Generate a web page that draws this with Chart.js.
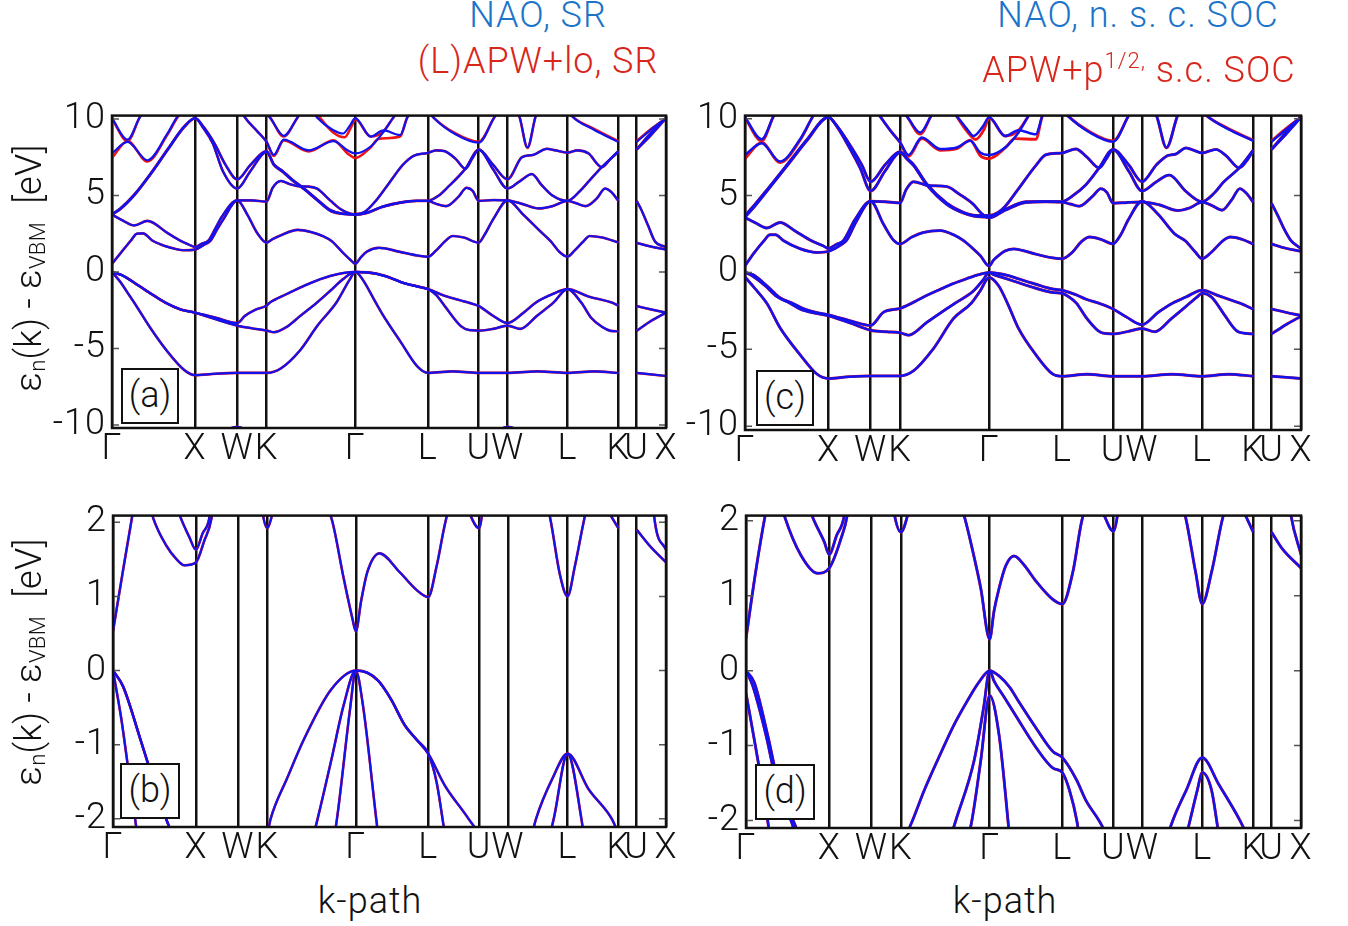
<!DOCTYPE html>
<html lang="en">
<head>
<meta charset="UTF-8">
<title>Band structures</title>
<script src="https://cdn.jsdelivr.net/npm/chart.js"></script>
<style>
  body { margin: 0; background: #fff; }
  #page { position: relative; width: 1348px; height: 926px; overflow: hidden;
          font-family: Roboto, "Liberation Sans", sans-serif; font-weight: 300; }
  canvas { position: absolute; }
  .txt { position: absolute; white-space: nowrap; font-size: 36px; line-height: 36px; letter-spacing: 1px; }
  .title { transform: translateX(-50%); }
  .blue { color: #1c74c8; }
  .red { color: #d8261a; }
  .ylab { width: 320px; height: 40px; line-height: 40px; text-align: center; color: #111;
          letter-spacing: 0.3px; transform: rotate(-90deg); }
  .ylab sub { font-size: 22px; vertical-align: -4px; }
  .box { position: absolute; box-sizing: border-box; border: 2px solid #111; background: #fff;
         font-size: 36px; text-align: center; color: #111; }
  sup { font-size: 22px; vertical-align: 14px; }
</style>
</head>
<body>
<div id="page">
  <canvas id="pa" width="680" height="382" style="left:0;top:88px"></canvas>
  <canvas id="pb" width="680" height="380" style="left:0;top:488px"></canvas>
  <canvas id="pc" width="668" height="382" style="left:680px;top:88px"></canvas>
  <canvas id="pd" width="668" height="380" style="left:680px;top:488px"></canvas>

  <div class="txt title blue" style="left:538px;top:-3px">NAO, SR</div>
  <div class="txt title red" style="left:538px;top:43px">(L)APW+lo, SR</div>
  <div class="txt title blue" style="left:1138px;top:-3px">NAO, n. s. c. SOC</div>
  <div class="txt title red" style="left:1139px;top:43px">APW+p<sup>1/2,</sup> s.c. SOC</div>

  <div class="txt ylab" style="left:-131px;top:248px">&epsilon;<sub>n</sub>(k) - &epsilon;<sub>VBM</sub>&nbsp;&nbsp;[eV]</div>
  <div class="txt ylab" style="left:-131px;top:642px">&epsilon;<sub>n</sub>(k) - &epsilon;<sub>VBM</sub>&nbsp;&nbsp;[eV]</div>

  <div class="txt title" style="left:370px;top:883px;color:#111">k-path</div>
  <div class="txt title" style="left:1005px;top:883px;color:#111">k-path</div>

  <div class="box" style="left:121px;top:368px;width:58px;height:56px;line-height:50px">(a)</div>
  <div class="box" style="left:120px;top:763px;width:60px;height:56px;line-height:50px">(b)</div>
  <div class="box" style="left:756px;top:370px;width:58px;height:56px;line-height:50px">(c)</div>
  <div class="box" style="left:755px;top:764px;width:60px;height:56px;line-height:50px">(d)</div>
</div>
<script>
// k-path: high-symmetry points (fraction of the path)
const kTicks = [0, 0.150, 0.226, 0.279, 0.439, 0.570, 0.662, 0.714, 0.822, 0.914, 0.947, 1];
const kLabels = ['\u0393', 'X', 'W', 'K', '\u0393', 'L', 'U', 'W', 'L', 'K', 'U', 'X'];
const wideTicks = [-10, -5, 0, 5, 10];
const zoomTicks = [-2, -1, 0, 1, 2];

// ---- scalar-relativistic bands, [k, E] (eV) ----
const srT1 = [[0.19,-10.6],[0.226,-10.12],[0.262,-10.6],[0.68,-10.6],[0.714,-10.12],[0.75,-10.6]];
const srT2 = [[0,0],[0.015,-0.65],[0.028,-1.35],[0.04,-2.0],[0.07,-3.7],[0.1,-5.2],[0.13,-6.4],[0.15,-6.75],
  [0.188,-6.65],[0.226,-6.6],[0.279,-6.6],
  [0.305,-6.3],[0.34,-5.1],[0.371,-3.5],[0.405,-2.0],[0.429,-0.5],[0.439,0],
  [0.452,-0.47],[0.476,-2.0],[0.49,-2.87],[0.521,-4.57],[0.551,-6.17],[0.570,-6.6],
  [0.615,-6.5],[0.662,-6.6],[0.714,-6.6],[0.768,-6.5],[0.822,-6.6],[0.87,-6.5],[0.914,-6.6],
  [0.93,null],[0.947,-6.6],[1,-6.8]];
const srT3 = [[0,0],[0.018,-0.21],[0.048,-0.89],[0.066,-1.32],[0.096,-2.0],[0.124,-2.45],[0.15,-2.66],
  [0.188,-3.1],[0.226,-3.51],[0.252,-3.68],[0.279,-3.83],
  [0.292,-3.94],[0.315,-3.6],[0.34,-2.87],[0.37,-2.0],[0.395,-1.2],[0.417,-0.47],[0.439,0],
  [0.46,-0.03],[0.48,-0.14],[0.503,-0.39],[0.527,-0.73],[0.55,-0.94],[0.570,-1.12],
  [0.585,-1.5],[0.6,-2.2],[0.63,-3.55],[0.645,-3.8],[0.662,-3.83],
  [0.688,-3.72],[0.714,-3.51],
  [0.737,-3.72],[0.767,-2.87],[0.797,-2.0],[0.822,-1.12],
  [0.847,-2.0],[0.865,-3.0],[0.885,-3.6],[0.9,-3.85],[0.914,-3.88],
  [0.93,null],[0.947,-3.85],[0.973,-3.2],[1,-2.66]];
const srT4 = [[0,0],[0.018,-0.21],[0.048,-0.89],[0.066,-1.32],[0.096,-2.0],[0.124,-2.45],[0.15,-2.66],
  [0.188,-3.0],[0.226,-3.34],[0.24,-2.87],[0.26,-2.45],[0.279,-2.2],
  [0.285,-2.0],[0.315,-1.45],[0.347,-0.9],[0.394,-0.26],[0.439,0],
  [0.46,-0.03],[0.48,-0.14],[0.503,-0.39],[0.527,-0.73],[0.55,-0.94],[0.570,-1.12],
  [0.6,-1.55],[0.643,-2.0],[0.662,-2.23],
  [0.688,-2.87],[0.714,-3.34],
  [0.743,-2.66],[0.765,-2.0],[0.795,-1.45],[0.822,-1.12],
  [0.86,-1.6],[0.902,-2.0],[0.914,-2.2],
  [0.93,null],[0.947,-2.23],[0.973,-2.45],[1,-2.66]];
const srT5 = [[0,0.53],[0.017,1.3],[0.034,2.05],[0.045,2.5],[0.056,2.52],[0.073,2.05],[0.096,1.69],[0.115,1.5],[0.129,1.42],[0.15,1.46],
  [0.165,1.75],[0.178,2.05],[0.19,2.8],[0.202,3.5],[0.226,4.68],
  [0.245,3.7],[0.262,2.55],[0.279,1.92],
  [0.29,2.15],[0.305,2.4],[0.335,2.75],[0.36,2.6],[0.38,2.35],[0.397,2.0],[0.417,1.25],[0.433,0.7],[0.439,0.53],
  [0.449,0.95],[0.46,1.33],[0.482,1.58],[0.518,1.33],[0.55,1.08],[0.570,0.99],
  [0.585,1.4],[0.601,2.0],[0.615,2.35],[0.635,2.25],[0.662,1.92],
  [0.672,2.4],[0.689,3.5],[0.714,4.68],
  [0.743,3.72],[0.773,2.66],[0.792,2.0],[0.808,1.3],[0.822,1.0],
  [0.835,1.4],[0.851,2.0],[0.862,2.35],[0.885,2.25],[0.914,1.92],
  [0.93,null],[0.947,1.9],[0.972,1.67],[1,1.46]];
const srT6 = [[0,3.75],[0.02,3.35],[0.04,3.04],[0.064,3.34],[0.1,2.55],[0.123,2.05],[0.138,1.8],[0.15,1.63],
  [0.162,1.85],[0.174,2.05],[0.186,2.8],[0.198,3.6],[0.226,4.68],
  [0.252,4.68],[0.279,4.6],
  [0.29,5.5],[0.305,5.95],[0.32,5.75],[0.338,5.6],[0.355,5.58],[0.37,5.45],[0.394,4.67],[0.415,4.05],[0.439,3.75],
  [0.46,3.85],[0.488,4.25],[0.527,4.56],[0.55,4.64],[0.570,4.64],
  [0.585,4.45],[0.603,4.3],[0.625,4.9],[0.64,5.5],[0.651,5.3],[0.662,4.64],
  [0.688,4.7],[0.714,4.68],
  [0.74,4.45],[0.77,4.15],[0.795,4.3],[0.822,4.64],
  [0.837,4.5],[0.855,4.3],[0.875,4.8],[0.89,5.45],[0.902,5.2],[0.914,4.64],
  [0.93,null],[0.947,4.64],[0.955,4.1],[0.968,3.0],[0.98,2.0],[1,1.63]];
const srT7 = [[0,3.75],[0.015,4.1],[0.04,5.0],[0.07,6.4],[0.1,7.95],[0.13,9.45],[0.15,10.05],
  [0.165,9.4],[0.182,8.4],[0.2,6.6],[0.226,5.45],
  [0.25,6.6],[0.279,7.85],
  [0.292,7.0],[0.308,6.55],[0.325,6.0],[0.347,5.4],[0.37,4.7],[0.394,4.0],[0.415,3.8],[0.439,3.75],
  [0.46,3.87],[0.488,4.27],[0.527,4.58],[0.55,4.65],[0.570,4.65],
  [0.59,5.0],[0.605,5.5],[0.638,6.75],[0.662,8.0],
  [0.688,6.7],[0.714,5.45],
  [0.735,5.9],[0.758,6.4],[0.775,5.7],[0.795,5.0],[0.822,4.65],
  [0.845,5.3],[0.86,5.9],[0.884,6.85],[0.914,7.85],
  [0.93,null],[0.947,8.0],[0.973,8.95],[1,10.05]];
const srT8 = [[0,3.78],[0.015,4.15],[0.04,5.05],[0.07,6.45],[0.1,8.0],[0.13,9.5],[0.15,10.05],
  [0.165,9.5],[0.185,8.4],[0.205,7.0],[0.226,6.05],
  [0.25,7.0],[0.279,7.9],
  [0.292,7.05],[0.308,6.6],[0.325,6.05],[0.347,5.45],[0.37,4.75],[0.394,4.05],[0.415,3.82],[0.439,3.78],
  [0.455,3.9],[0.475,4.6],[0.5,5.8],[0.525,7.0],[0.545,7.6],[0.570,7.78],
  [0.585,7.95],[0.6,7.9],[0.62,7.4],[0.638,6.75],[0.65,7.4],[0.662,8.0],
  [0.688,7.0],[0.714,6.05],
  [0.74,7.5],[0.76,7.65],[0.785,8.05],[0.8,7.95],[0.822,7.8],
  [0.84,7.95],[0.86,7.75],[0.884,6.85],[0.9,7.4],[0.914,7.9],
  [0.93,null],[0.947,8.0],[0.973,9.1],[1,10.05]];
const srT9 = [[0,7.75],[0.028,8.5],[0.064,7.3],[0.1,9.04],[0.118,10.15],[0.13,10.6],[0.15,11],[0.226,11],
  [0.24,10.1],[0.262,9.2],[0.279,8.5],
  [0.292,7.65],[0.31,8.65],[0.355,7.95],[0.4,8.55],[0.425,7.95],[0.439,7.75],
  [0.467,8.2],[0.49,9.15],[0.508,10.1],[0.52,10.6],[0.56,11],[0.58,10.1],[0.62,9.0],[0.662,8.45],
  [0.69,10.1],[0.7,10.6],[0.714,11],[0.735,10.2],[0.75,8.15],[0.765,10.2],[0.78,11],[0.815,11],
  [0.83,10.2],[0.87,9.3],[0.914,8.5],
  [0.93,null],[0.947,8.5],[0.973,9.3],[1,10.05]];
const srT10 = [[0,10.05],[0.028,8.65],[0.05,10.1],[0.06,10.6],[0.27,10.6],[0.285,10.1],[0.31,8.9],[0.335,10.1],
  [0.345,10.6],[0.36,10.6],[0.37,10.1],[0.398,9.3],[0.417,9.05],[0.43,9.6],[0.439,10.05],
  [0.467,8.85],[0.49,9.25],[0.52,8.95],[0.533,10.1],[0.545,10.6]];
const srT9red = [[0,7.45],[0.028,8.55],[0.064,7.22],[0.1,8.98],[0.118,10.1],[0.13,10.6],[0.15,11],[0.226,11],
  [0.24,10.1],[0.262,9.2],[0.279,8.5],
  [0.292,7.58],[0.31,8.6],[0.355,7.88],[0.4,8.6],[0.425,7.75],[0.439,7.45],
  [0.467,8.15],[0.481,8.7],[0.52,8.85],[0.533,10.1],[0.545,10.6],[0.56,11],[0.58,10.1],[0.62,9.05],[0.662,8.5],
  [0.69,10.1],[0.7,10.6],[0.714,11],[0.735,10.2],[0.75,8.1],[0.765,10.2],[0.78,11],[0.815,11],
  [0.83,10.2],[0.87,9.35],[0.914,8.55],
  [0.93,null],[0.947,8.55],[0.973,9.35],[1,10.05]];
const srT10red = [[0,10.0],[0.028,8.55],[0.05,10.1],[0.06,10.6],[0.27,10.6],[0.285,10.1],[0.31,8.85],[0.335,10.1],
  [0.345,10.6],[0.365,10.6],[0.375,10.1],[0.4,9.1],[0.42,8.8],[0.432,9.5],[0.439,10.0],
  [0.467,8.85],[0.49,9.2],[0.508,10.1],[0.52,10.6]];

// ---- spin-orbit bands, [k, E] (eV) ----
const socT2 = [[0,-0.3],[0.018,-1.05],[0.04,-2.05],[0.063,-3.6],[0.099,-5.35],[0.129,-6.6],[0.15,-6.9],
  [0.188,-6.78],[0.226,-6.73],[0.279,-6.73],
  [0.303,-6.4],[0.339,-4.95],[0.375,-3.0],[0.407,-2.0],[0.423,-1.2],[0.439,-0.33],
  [0.456,-0.86],[0.472,-2.0],[0.492,-3.65],[0.523,-5.35],[0.553,-6.6],[0.570,-6.75],
  [0.615,-6.62],[0.662,-6.75],[0.714,-6.75],[0.768,-6.62],[0.822,-6.75],[0.87,-6.62],[0.914,-6.75],
  [0.93,null],[0.947,-6.75],[1,-6.9]];
const socT3 = [[0,0],[0.012,-0.2],[0.036,-0.86],[0.057,-1.56],[0.081,-2.0],[0.099,-2.38],[0.125,-2.65],[0.15,-2.82],
  [0.19,-3.3],[0.226,-3.76],[0.255,-3.86],[0.279,-3.93],
  [0.294,-4.08],[0.327,-3.25],[0.355,-2.55],[0.378,-2.0],[0.411,-1.2],[0.428,-0.5],[0.439,0],
  [0.447,-0.14],[0.465,-0.35],[0.486,-0.6],[0.523,-1.03],[0.553,-1.3],[0.570,-1.36],
  [0.583,-1.6],[0.596,-2.0],[0.615,-3.0],[0.64,-3.9],[0.662,-4.0],
  [0.688,-3.85],[0.714,-3.65],
  [0.737,-3.86],[0.767,-3.0],[0.8,-2.0],[0.813,-1.6],[0.822,-1.36],
  [0.839,-1.6],[0.848,-2.0],[0.863,-2.8],[0.887,-3.86],[0.914,-4.0],
  [0.93,null],[0.947,-4.0],[0.973,-3.4],[1,-2.85]];
const socT4 = [[0,0],[0.015,-0.16],[0.039,-0.86],[0.063,-1.65],[0.085,-2.0],[0.105,-2.35],[0.13,-2.62],[0.15,-2.76],
  [0.19,-3.15],[0.226,-3.45],[0.249,-2.59],[0.279,-2.34],
  [0.3,-2.0],[0.321,-1.6],[0.351,-1.1],[0.375,-0.72],[0.399,-0.4],[0.42,-0.15],[0.439,0],
  [0.456,-0.07],[0.475,-0.22],[0.492,-0.42],[0.523,-0.77],[0.553,-1.08],[0.570,-1.16],
  [0.595,-1.45],[0.613,-1.74],[0.636,-2.0],[0.662,-2.38],
  [0.686,-2.9],[0.714,-3.4],
  [0.743,-2.6],[0.769,-2.0],[0.793,-1.6],[0.822,-1.16],
  [0.852,-1.52],[0.89,-2.0],[0.914,-2.38],
  [0.93,null],[0.947,-2.38],[0.973,-2.6],[1,-2.8]];
const socT5 = [[0,0.43],[0.017,1.3],[0.034,2.05],[0.045,2.45],[0.055,2.45],[0.069,2.07],[0.099,1.54],[0.129,1.3],[0.15,1.37],
  [0.171,1.76],[0.183,2.1],[0.2,3.3],[0.226,4.63],
  [0.249,3.14],[0.267,2.1],[0.279,1.85],
  [0.3,2.3],[0.321,2.6],[0.351,2.72],[0.375,2.45],[0.393,2.07],[0.41,1.55],[0.423,1.1],[0.439,0.42],
  [0.447,0.8],[0.456,1.1],[0.468,1.4],[0.483,1.53],[0.5,1.42],[0.523,1.19],[0.553,0.95],[0.570,0.89],
  [0.589,1.32],[0.605,2.0],[0.62,2.3],[0.64,2.15],[0.662,1.86],
  [0.675,2.4],[0.69,3.46],[0.714,4.63],
  [0.743,3.78],[0.773,2.5],[0.792,2.05],[0.81,1.32],[0.822,0.89],
  [0.839,1.32],[0.86,2.07],[0.873,2.3],[0.894,2.15],[0.914,1.85],
  [0.93,null],[0.947,1.85],[0.966,1.63],[1,1.37]];
const socT6 = [[0,3.57],[0.02,3.2],[0.039,2.89],[0.063,3.25],[0.09,2.7],[0.12,2.05],[0.141,1.72],[0.15,1.55],
  [0.163,1.8],[0.177,2.07],[0.198,3.45],[0.226,4.63],
  [0.252,4.6],[0.279,4.52],
  [0.29,5.4],[0.303,5.9],[0.33,5.65],[0.363,5.58],[0.385,5.1],[0.411,4.42],[0.425,3.85],[0.439,3.55],
  [0.468,4.05],[0.505,4.55],[0.54,4.6],[0.570,4.57],
  [0.585,4.45],[0.601,4.31],[0.625,4.95],[0.64,5.45],[0.651,5.2],[0.662,4.5],
  [0.688,4.55],[0.714,4.58],
  [0.745,4.4],[0.778,4.03],[0.8,4.2],[0.822,4.57],
  [0.84,4.35],[0.858,4.05],[0.875,4.7],[0.89,5.45],[0.903,5.1],[0.914,4.57],
  [0.93,null],[0.947,4.5],[0.96,3.57],[0.97,2.8],[0.982,2.07],[1,1.55]];
const socT7 = [[0,3.6],[0.015,4.2],[0.039,5.27],[0.081,7.18],[0.111,8.56],[0.15,10.1],
  [0.165,9.5],[0.189,8.03],[0.207,6.8],[0.226,5.3],
  [0.252,6.6],[0.279,7.8],
  [0.292,7.35],[0.303,6.96],[0.327,5.69],[0.363,4.42],[0.39,3.9],[0.411,3.67],[0.439,3.6],
  [0.468,4.1],[0.505,4.6],[0.54,4.62],[0.570,4.6],
  [0.59,5.0],[0.613,5.7],[0.637,6.8],[0.662,8.0],
  [0.69,6.6],[0.714,5.3],
  [0.74,5.9],[0.763,6.33],[0.793,5.27],[0.822,4.6],
  [0.845,5.2],[0.86,5.85],[0.889,6.8],[0.914,7.95],
  [0.93,null],[0.947,8.0],[0.973,9.0],[1,10.1]];
const socT8 = [[0,3.7],[0.015,4.3],[0.039,5.35],[0.081,7.25],[0.111,8.62],[0.15,10.1],
  [0.165,9.55],[0.192,8.1],[0.21,7.0],[0.226,5.9],
  [0.252,7.0],[0.279,7.85],
  [0.292,7.4],[0.303,7.02],[0.327,5.75],[0.363,4.5],[0.39,3.95],[0.411,3.72],[0.439,3.7],
  [0.455,3.9],[0.468,4.3],[0.492,5.45],[0.523,6.95],[0.541,7.65],[0.570,7.77],
  [0.595,8.03],[0.615,7.5],[0.637,6.8],[0.65,7.4],[0.662,8.0],
  [0.69,7.0],[0.714,5.9],
  [0.74,7.0],[0.76,7.6],[0.775,7.7],[0.793,8.1],[0.81,7.9],[0.822,7.77],
  [0.847,8.0],[0.865,7.6],[0.889,6.8],[0.905,7.4],[0.914,7.95],
  [0.93,null],[0.947,8.0],[0.973,9.1],[1,10.1]];
const socT9 = [[0,7.64],[0.03,8.4],[0.063,7.22],[0.099,8.66],[0.123,10.2],[0.135,10.8],[0.15,11],[0.226,11],
  [0.24,10.3],[0.262,9.2],[0.279,8.45],
  [0.294,7.64],[0.318,8.77],[0.351,8.03],[0.381,8.13],[0.405,8.56],[0.423,7.8],[0.439,7.64],
  [0.468,8.13],[0.492,9.1],[0.51,10.2],[0.52,10.8],[0.56,11],[0.58,10.2],[0.62,9.1],[0.662,8.5],
  [0.69,10.2],[0.7,10.8],[0.72,11],[0.74,10.2],[0.758,8.13],[0.778,10.2],[0.79,11],[0.81,11],
  [0.83,10.2],[0.87,9.3],[0.914,8.56],
  [0.93,null],[0.947,8.5],[0.973,9.3],[1,10.1]];
const socT10 = [[0,10.1],[0.03,8.66],[0.052,10.2],[0.065,10.8],[0.27,10.8],[0.29,10.2],[0.315,9.1],[0.335,10.2],
  [0.345,10.8],[0.365,10.8],[0.38,10.2],[0.399,9.34],[0.411,8.87],[0.428,9.5],[0.439,10.1],
  [0.468,8.87],[0.492,9.25],[0.523,8.98],[0.535,10.2],[0.545,10.8]];
const socT9red = [[0,7.4],[0.03,8.45],[0.063,7.15],[0.099,8.6],[0.123,10.2],[0.135,10.8],[0.15,11],[0.226,11],
  [0.24,10.3],[0.262,9.2],[0.279,8.45],
  [0.294,7.55],[0.318,8.7],[0.351,7.95],[0.381,8.05],[0.405,8.6],[0.423,7.6],[0.439,7.4],
  [0.468,8.1],[0.485,8.7],[0.523,8.66],[0.535,10.2],[0.545,10.8],[0.56,11],[0.58,10.2],[0.62,9.15],[0.662,8.55],
  [0.69,10.2],[0.7,10.8],[0.72,11],[0.74,10.2],[0.758,8.1],[0.778,10.2],[0.79,11],[0.81,11],
  [0.83,10.2],[0.87,9.35],[0.914,8.6],
  [0.93,null],[0.947,8.55],[0.973,9.35],[1,10.1]];
const socT10red = [[0,10.05],[0.03,8.55],[0.052,10.2],[0.065,10.8],[0.27,10.8],[0.29,10.2],[0.315,9.0],[0.335,10.2],
  [0.345,10.8],[0.37,10.8],[0.38,10.2],[0.399,9.2],[0.415,8.65],[0.43,9.3],[0.439,10.05],
  [0.468,8.87],[0.492,9.25],[0.51,10.2],[0.52,10.8]];

const srBlue = [srT1, srT2, srT3, srT4, srT5, srT6, srT7, srT8, srT9, srT10];
const srRed = [srT1, srT2, srT3, srT4, srT5, srT6, srT7, srT8, srT9red, srT10red];
const socBlue = [socT2, socT3, socT4, socT5, socT6, socT7, socT8, socT9, socT10];
const socRed = [socT2, socT3, socT4, socT5, socT6, socT7, socT8, socT9red, socT10red];

const BLUE = 'rgb(18,18,238)';
const RED = 'rgb(240,20,20)';
const FONT = { family: 'Roboto, "Liberation Sans", sans-serif', size: 36, weight: '300' };

// wider tracking for tick labels, like the thin Helvetica of the original
const spacingPlugin = {
  id: 'spacing',
  beforeDraw(chart) { chart.ctx.letterSpacing = '1px'; }
};

// frame + small inward ticks on both sides
const framePlugin = {
  id: 'frame',
  afterDatasetsDraw(chart) {
    const { ctx, chartArea: a } = chart;
    const ys = chart.scales.y;
    ctx.save();
    ctx.strokeStyle = '#555';
    ctx.lineWidth = 1.5;
    ys.ticks.forEach(t => {
      const py = ys.getPixelForValue(t.value);
      ctx.beginPath();
      ctx.moveTo(a.left, py); ctx.lineTo(a.left + 7, py);
      ctx.moveTo(a.right - 7, py); ctx.lineTo(a.right, py);
      ctx.stroke();
    });
    ctx.strokeStyle = '#111';
    ctx.lineWidth = 2.5;
    ctx.strokeRect(a.left, a.top, a.width, a.height);
    ctx.restore();
  }
};

function toXY(arr) {
  return arr.map(p => ({ x: p[0], y: p[1] }));
}

function lineSet(arr, color, order, width) {
  return {
    data: toXY(arr),
    borderColor: color,
    borderWidth: width,
    pointRadius: 0,
    showLine: true,
    fill: false,
    cubicInterpolationMode: 'monotone',
    capBezierPoints: false,
    spanGaps: false,
    order: order
  };
}

function makePanel(id, blue, red, p) {
  const datasets = [];
  blue.forEach(b => datasets.push(lineSet(b, BLUE, 0, p.lw)));
  red.forEach(b => datasets.push(lineSet(b, RED, 1, p.lw + 0.4)));
  new Chart(document.getElementById(id), {
    type: 'scatter',
    data: { datasets },
    options: {
      responsive: false,
      animation: false,
      events: [],
      layout: { padding: { top: p.top, right: p.right, left: 0, bottom: 0 } },
      plugins: { legend: { display: false }, tooltip: { enabled: false } },
      scales: {
        x: {
          type: 'linear', min: 0, max: 1,
          afterBuildTicks: s => { s.ticks = kTicks.map(v => ({ value: v })); },
          afterFit: s => { s.height = p.xh; },
          ticks: { autoSkip: false, maxRotation: 0, minRotation: 0, padding: 0, color: '#111', font: FONT,
                   callback: (v, i) => kLabels[i] },
          grid: { color: '#111', lineWidth: 2.5, drawTicks: false },
          border: { display: false }
        },
        y: {
          type: 'linear', min: p.ymin, max: p.ymax,
          afterBuildTicks: s => { s.ticks = p.yticks.map(v => ({ value: v })); },
          afterFit: s => { s.width = p.yw; },
          ticks: { padding: 6, color: '#111', font: FONT, callback: v => String(v) },
          grid: { display: false, drawTicks: false },
          border: { display: false }
        }
      }
    },
    plugins: [spacingPlugin, framePlugin]
  });
}

makePanel('pa', srBlue, srRed, { top: 20, right: 14, yw: 112, xh: 42, ymin: -10.2, ymax: 10.22, yticks: wideTicks, lw: 2.2 });
makePanel('pb', srBlue, srRed, { top: 19, right: 14, yw: 113, xh: 41, ymin: -2.11, ymax: 2.09, yticks: zoomTicks, lw: 2.2 });
makePanel('pc', socBlue, socRed, { top: 21, right: 47, yw: 65, xh: 40, ymin: -10.25, ymax: 10.2, yticks: wideTicks, lw: 2.5 });
makePanel('pd', socBlue, socRed, { top: 20, right: 47, yw: 66, xh: 40, ymin: -2.1, ymax: 2.07, yticks: zoomTicks, lw: 2.5 });
</script>
</body>
</html>
